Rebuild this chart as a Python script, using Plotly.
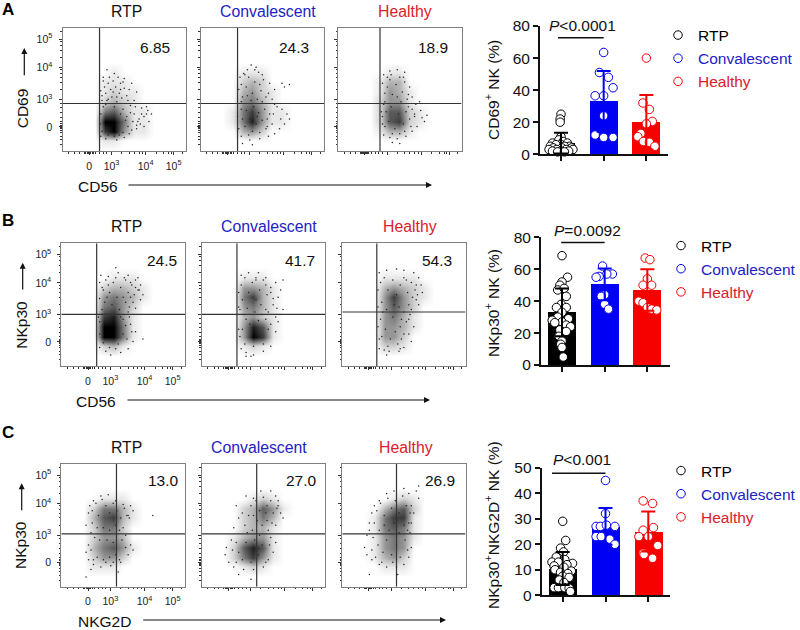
import numpy as np
import plotly.graph_objects as go

W, H = 800, 630
FONT = "Liberation Sans"
BLUE, RED, BLACK = "#0000f5", "#f70000", "#000000"
T_BLUE, T_RED = "#2222c4", "#d9202c"
GROUPS = ["RTP", "Convalescent", "Healthy"]
GROUP_COLORS = [BLACK, BLUE, RED]
TITLE_COLORS = ["#111111", T_BLUE, T_RED]

# ---------- flow-plot data (channel units 0-100) ----------
GRID_X = [10, 18, 26, 34, 42, 50, 58, 66, 74, 82]
GRID_Y = [80, 72, 64, 56, 48, 40, 32, 24, 16, 8, 0]

A_RTP_GRID = [[0,0,0,0,0,0,0,0],[0,0,0,1,0,0,0,0],[0,0,1,1,1,0,0,0],[0,0,1,2,1,1,0,0],[0,0,2,3,2,1,0,0],
              [0,0,5,6,3,1,1,0],[0,0,9,9,5,1,1,0],[0,0,7,9,4,1,1,0],[0,0,1,1,0,0,0,0]]
A_CON_GRID = [[0,0,0,0,0,0,0,0],[0,0,1,1,1,0,0,0],[0,0,2,3,2,0,0,0],[0,0,3,4,2,1,0,0],[0,0,4,5,3,1,0,0],
              [0,1,5,7,4,1,1,0],[0,1,5,8,4,1,1,0],[0,0,3,4,2,0,0,0],[0,0,0,0,0,0,0,0]]
A_HEA_GRID = [[0,0,0,0,0,0,0,0],[0,0,0,1,1,0,0,0],[0,0,1,3,3,0,0,0],[0,0,1,4,3,1,0,0],[0,0,2,4,4,1,0,0],
              [0,0,2,6,6,2,1,0],[0,0,2,6,7,2,1,0],[0,0,1,3,3,1,0,0],[0,0,0,0,0,0,0,0]]
B_RTP_GRID = [[0,0,0,1,1,1,0,0],[0,0,2,3,3,2,1,0],[0,0,4,5,4,3,1,0],[0,0,5,6,4,2,0,0],[0,0,7,8,4,1,0,0],
              [0,0,9,9,5,1,0,0],[0,0,9,9,5,1,0,0],[0,0,2,3,1,0,0,0],[0,0,0,0,0,0,0,0]]
B_CON_GRID = [[0,0,1,1,1,0,0,0],[0,0,4,4,3,1,0,0],[0,0,5,7,3,1,0,0],[0,0,4,5,3,1,0,0],[0,0,3,4,2,1,0,0],
              [0,0,4,8,6,1,0,0],[0,0,4,9,7,1,0,0],[0,0,1,2,1,0,0,0],[0,0,0,0,0,0,0,0]]
B_HEA_GRID = [[0,0,1,1,1,1,0,0],[0,0,3,4,3,2,1,0],[0,0,4,7,4,2,1,0],[0,0,4,6,4,2,0,0],[0,0,4,5,3,1,0,0],
              [0,0,4,4,3,1,0,0],[0,0,4,4,2,0,0,0],[0,0,2,2,1,0,0,0],[0,0,0,0,0,0,0,0]]
C_RTP_GRID = [[0,0,1,1,1,0,0,0],[0,2,5,5,3,1,0,0],[0,3,6,7,3,1,0,0],[0,2,5,5,2,0,0,0],[0,2,4,4,3,0,0,0],
              [0,3,5,6,4,1,0,0],[0,2,4,4,2,0,0,0],[0,1,1,1,0,0,0,0],[0,0,0,0,0,0,0,0]]
C_CON_GRID = [[0,0,0,1,2,1,0,0],[0,0,2,3,6,4,1,0],[0,0,2,3,5,3,0,0],[0,0,2,3,3,1,0,0],[0,1,3,4,4,1,0,0],
              [0,2,6,8,6,1,0,0],[0,2,5,7,4,1,0,0],[0,0,1,2,1,0,0,0],[0,0,0,0,0,0,0,0]]
C_HEA_GRID = [[0,0,0,1,2,1,0,0],[0,0,3,5,6,2,0,0],[0,1,5,7,7,1,0,0],[0,1,5,6,5,1,0,0],[0,1,4,5,4,1,0,0],
              [0,1,4,5,4,0,0,0],[0,1,3,4,2,0,0,0],[0,0,1,1,1,0,0,0],[0,0,0,0,0,0,0,0]]

A_RTP_DOTS = [(33,60),(36,66),(42,63),(50,59),(56,55),(60,48),(34,52),(39,50),(46,47),(52,45),(47,55),(41,57),
              (58,41),(64,35),(68,30),(70,24),(66,20),(62,26),(58,30),(72,30),(66,28),(60,18),(54,14),(31,12),
              (35,10),(44,9),(50,11),(31,30),(32,45),(55,37),(63,22),(69,33),(37,42),(44,40),
              (32,41),(35,47),(37,55),(40,44),(43,52),(45,60),(48,43),(50,51),(53,41),(33,57),(36,41),(41,48),
              (44,44),(47,50),(38,60),(54,50),(49,56),(31,49),(35,38),(42,36),(49,34),(55,31),(59,36),(61,24),
              (57,24),(53,20),(60,21),(64,30),(56,17),(49,15),(52,28),(47,30),(33,36),(30.5,22),(32,16),(37,13),
              (42,12),(46,13),(51,25),(68,36)]
A_CON_DOTS = [(32,60),(38,66),(45,68),(50,62),(56,55),(60,50),(31,50),(33,40),(41,70),(35,63),(58,42),(62,36),
              (66,34),(70,30),(68,22),(65,26),(72,26),(64,18),(60,14),(55,12),(48,10),(40,9),(33,12),(31,18),
              (30,28),(66,55),(72,54),(68,52),(42,5),(34,6),(54,20),(59,30),
              (34,44),(37,52),(39,60),(42,47),(44,56),(47,64),(49,49),(51,58),(53,44),(36,62),(33,54),(41,41),
              (46,42),(48,54),(44,66),(55,47),(38,45),(43,36),(47,31),(52,34),(56,30),(37,33),(34,26),(40,26),
              (45,22),(50,25),(54,26),(36,20),(42,16),(48,15),(33,34),(58,22),(60,38),(53,18),(39,13),(46,28),(50,40)]
A_HEA_DOTS = [(37,62),(42,65),(48,66),(53,60),(58,52),(36,55),(38,47),(60,44),(63,38),(67,33),(68,27),(70,24),
              (64,20),(60,16),(55,12),(48,10),(42,11),(37,13),(36,22),(35,32),(62,28),(57,46),(50,6),(44,7),
              (72,29),(66,40),(54,64),(40,60),
              (38,40),(40,52),(42,58),(44,46),(47,54),(50,60),(52,48),(54,56),(56,42),(39,32),(41,24),(43,36),
              (46,18),(49,30),(51,40),(53,22),(55,32),(58,26),(60,34),(57,36),(62,30),(38,20),(44,14),(50,14),
              (37,38),(43,62),(48,44),(54,16),(59,20),(36,28)]
B_RTP_DOTS = [(32,74),(38,73),(46,76),(54,74),(60,70),(64,66),(66,58),(63,62),(58,52),(60,47),(54,44),(31,68),
              (34,62),(62,72),(56,68),(50,38),(56,34),(60,28),(58,20),(54,14),(48,11),(40,9),(36,12),(31,15),
              (30,40),(31,55),(66,22),(44,80),(52,70),(64,54),
              (33,64),(36,70),(39,60),(42,68),(45,56),(48,64),(51,72),(54,60),(57,66),(59,58),(35,52),(41,50),
              (47,46),(52,52),(55,48),(33,46),(38,66),(44,72),(50,56),(60,64),(56,56),(62,62),(48,40),(52,33),
              (50,26),(53,22),(46,18),(34,19),(39,15),(44,14),(31,26),(31,36),(55,40),(57,28),(37,56)]
B_CON_DOTS = [(32,74),(38,76),(46,76),(52,72),(60,68),(64,62),(62,56),(58,50),(66,70),(56,60),(54,44),(60,40),
              (62,36),(60,28),(56,16),(50,12),(42,9),(36,11),(32,14),(30,30),(30,48),(30,60),(36,8),(40,8),(66,46),
              (44,70),(52,66),
              (32,66),(35,72),(38,60),(41,68),(44,54),(47,62),(50,70),(53,58),(56,64),(33,54),(37,47),(43,44),
              (48,50),(52,46),(31,46),(36,38),(39,34),(33,30),(31,24),(35,18),(42,16),(50,18),(54,30),(52,38),
              (46,37),(58,55),(61,47),(44,72),(34,42),(49,42),(56,34)]
B_HEA_DOTS = [(30,76),(36,78),(44,79),(50,78),(58,76),(62,72),(64,66),(65,60),(60,54),(56,46),(54,38),(58,32),
              (54,26),(56,20),(50,15),(46,12),(38,12),(34,13),(30,14),(29,32),(29,48),(29,62),(60,66),(52,70),
              (48,22),(62,50),(30,22),(36,9),
              (31,68),(34,72),(37,62),(41,70),(44,58),(47,66),(50,72),(53,60),(56,68),(59,62),(32,52),(36,46),
              (41,40),(46,48),(50,44),(54,50),(57,56),(31,38),(35,30),(39,22),(43,28),(47,32),(50,26),(45,18),
              (37,16),(32,24),(48,38),(52,36),(61,58),(42,50),(33,44),(55,42),(47,14)]
C_RTP_DOTS = [(26,70),(32,74),(38,75),(44,70),(50,67),(56,66),(58,62),(54,58),(22,60),(20,50),(24,44),(22,34),
              (20,28),(22,22),(26,18),(32,16),(40,17),(48,20),(54,26),(56,34),(52,42),(50,48),(24,14),(74,58),
              (58,30),(20,8),(46,12),(55,56),
              (25,62),(28,68),(30,58),(33,71),(36,66),(39,60),(42,68),(45,62),(48,56),(51,64),(25,52),(29,48),
              (34,48),(39,46),(44,50),(47,46),(27,40),(31,38),(37,38),(42,36),(49,38),(52,32),(24,30),(29,24),
              (34,22),(39,24),(44,26),(47,22),(26,22),(53,58),(23,66),(36,20),(42,20)]
C_CON_DOTS = [(36,74),(42,72),(48,78),(56,78),(60,74),(62,66),(64,60),(66,56),(60,50),(54,46),(30,56),(26,48),
              (24,38),(20,32),(19,26),(22,20),(26,16),(34,14),(42,14),(50,16),(54,22),(58,28),(60,36),(56,40),
              (28,66),(62,70),(30,10),(40,6),
              (40,66),(44,70),(47,62),(50,73),(53,66),(56,70),(58,60),(61,64),(45,54),(49,50),(53,54),(57,52),
              (38,58),(35,50),(33,60),(41,46),(28,36),(30,28),(33,22),(36,36),(40,20),(43,38),(46,26),(49,34),
              (52,20),(55,34),(25,30),(28,20),(47,42),(37,44),(52,60),(42,58)]
C_HEA_DOTS = [(30,70),(36,76),(42,78),(50,80),(54,76),(60,78),(62,72),(56,66),(58,60),(54,52),(24,60),(22,52),
              (20,42),(18,32),(20,26),(24,22),(30,18),(36,16),(44,16),(50,18),(54,24),(56,32),(55,44),(62,82),(22,10),
              (45,10),(26,66),
              (28,62),(31,68),(34,58),(37,72),(40,64),(43,70),(46,60),(49,74),(52,66),(55,60),(26,52),(30,46),
              (34,50),(38,46),(42,52),(46,44),(50,50),(53,46),(25,40),(29,34),(33,28),(36,38),(40,26),(44,34),
              (47,24),(51,38),(53,30),(24,30),(27,24),(32,20),(56,52),(22,46),(41,20)]

FLOW_GRIDS = [[A_RTP_GRID, A_CON_GRID, A_HEA_GRID], [B_RTP_GRID, B_CON_GRID, B_HEA_GRID], [C_RTP_GRID, C_CON_GRID, C_HEA_GRID]]
FLOW_DOTS = [[A_RTP_DOTS, A_CON_DOTS, A_HEA_DOTS], [B_RTP_DOTS, B_CON_DOTS, B_HEA_DOTS], [C_RTP_DOTS, C_CON_DOTS, C_HEA_DOTS]]
GATE_X = [[30, 30, 34], [28.6, 28.6, 28], [44.6, 44.6, 44]]
GATE_Y = [[38.6, 38.6, 38.6], [42, 42, 44], [43, 43, 43]]
PERCENTS = [["6.85", "24.3", "18.9"], ["24.5", "41.7", "54.3"], ["13.0", "27.0", "26.9"]]
X_TICKS = [21.6, 39.7, 67.3, 90]
Y_TICKS = [19.6, 42, 67.7, 91]
X_TICK_TEXT = ["0", "10<sup>3</sup>", "10<sup>4</sup>", "10<sup>5</sup>"]
Y_TICK_TEXT = ["0", "10<sup>3</sup>", "10<sup>4</sup>", "10<sup>5</sup>"]
X_MINOR = [5, 10, 14, 18, 19, 20, 21, 22, 23, 24, 25, 27, 30, 33, 36, 48, 54, 58, 62, 65, 76, 82, 86, 88, 97]
Y_MINOR = [5, 9, 12, 15, 17, 18, 19, 20, 21, 22, 24, 27, 31, 35, 39, 50, 56, 60, 63, 66, 76, 82, 86, 89, 97]
DENSITY_SCALE = [[0, "#ffffff"], [1/9, "#e8e8e8"], [2/9, "#d0d0d0"], [3/9, "#b4b4b4"], [4/9, "#969696"],
                 [5/9, "#787878"], [6/9, "#5a5a5a"], [7/9, "#3c3c3c"], [8/9, "#1e1e1e"], [1, "#000000"]]

# ---------- bar-chart data ----------
BAR_MEANS = [[7, 33, 20], [33, 50.5, 47], [10.5, 27, 25]]
BAR_SDS = [[6.5, 19, 17], [15, 10, 13], [6.5, 7.2, 7.8]]
A_RTP_VAL = [25,22,20,11,9,8,7,7,6,6,5,5,5,4,4,4,3,3,3,3,2,2,2,1.5,1.5]
A_RTP_OFF = [0,-.02,-.02,0,-.05,.05,-.2,.15,0,-.12,.2,-.25,.08,-.18,.02,.25,-.28,-.1,.12,.28,-.2,0,.18,-.08,.08]
A_CON_VAL = [63.5,51,48,41.5,36.5,36.5,24,12,10.5,10.5]
A_CON_OFF = [0,-.1,.11,.22,-.2,0,0,-.2,0,.22]
A_HEA_VAL = [60,32,28,20.5,19,13,11,8,7.5,5]
A_HEA_OFF = [0,-.08,.07,.14,0,-.13,-.2,-.07,.07,.2]
B_RTP_VAL = [68.5,55,52,50,47,48,43,38,36,36,33,30,29,28,27,26.5,25,24,22,21,18,15,13,11,5]
B_RTP_OFF = [0,.13,0,-.05,-.1,.05,.1,-.02,.1,-.13,0,-.1,.15,-.23,0,-.17,.1,.2,-.05,.1,-.07,0,-.03,0,.03]
B_CON_VAL = [62,57,57,55.5,55,44,43,38,35]
B_CON_OFF = [-.05,.18,.05,-.13,-.2,0,-.08,0,.09]
B_HEA_VAL = [67,66,54,50,50,40,39,36,35,34.5]
B_HEA_OFF = [-.05,.06,0,-.1,.1,-.2,-.1,0,.1,.22]
C_RTP_VAL = [29,21.5,18.5,17,15,14,13,13,12.5,12,11.5,11,10,9.5,9,8.5,7.5,7,6,5,3,3,3,2.8,1.5]
C_RTP_OFF = [0,.07,-.05,.02,-.15,.05,-.25,-.1,.23,.1,-.2,.03,-.18,.2,-.05,.12,0,.15,-.08,.03,-.2,-.1,.05,.15,.18]
C_CON_VAL = [45,32,27,27,27.5,27,23,23,22,20]
C_CON_OFF = [0,0,-.22,-.12,.02,.22,-.22,-.1,.1,.22]
C_HEA_VAL = [37,36,25.5,26.5,23,23,19.5,16.5,16,14.5]
C_HEA_OFF = [-.12,.1,-.12,.12,-.22,0,.22,-.12,-.1,.1]
BAR_VALUES = [[A_RTP_VAL, A_CON_VAL, A_HEA_VAL], [B_RTP_VAL, B_CON_VAL, B_HEA_VAL], [C_RTP_VAL, C_CON_VAL, C_HEA_VAL]]
BAR_OFFSETS = [[A_RTP_OFF, A_CON_OFF, A_HEA_OFF], [B_RTP_OFF, B_CON_OFF, B_HEA_OFF], [C_RTP_OFF, C_CON_OFF, C_HEA_OFF]]
BAR_TICKS = [[0, 20, 40, 60, 80], [0, 20, 40, 60, 80], [0, 10, 20, 30, 40, 50]]
BAR_MAX = [80, 80, 50]
P_TEXT = ["<i>P</i>&lt;0.0001", "<i>P</i>=0.0092", "<i>P</i>&lt;0.001"]
P_LINE = [(-0.07, 72.7), (-0.02, 76.7), (-0.25, 47.8)]

# ---------- layout geometry (pixels) ----------
FLOW_BOX = [
    [(62.5, 186, 28, 151), (200.5, 324, 28, 151), (338, 461.5, 28, 151)],
    [(61.3, 185, 243.3, 366), (201.7, 325, 243.3, 366), (342.3, 465.5, 243.3, 366)],
    [(61.3, 185, 464, 586.7), (201.7, 325, 464, 586.7), (342.3, 465.5, 464, 586.7)],
]
BAR_BOX = [(540, 668, 26, 154.3), (541, 670, 237.3, 365), (541.7, 670, 467.7, 595.3)]
BAR_CENTER0 = [561, 562, 562.7]
BAR_STEP = [42.67, 42.67, 42.8]
TITLE_Y = [11.7, 226.7, 447.7]
TITLE_X = [[126.7, 267.7, 405], [126.7, 269, 410], [126.7, 259.3, 406]]
PCT_Y = [47.7, 260, 480]
PCT_X = [[155.3, 294.3, 433], [161.7, 300, 437], [163.3, 301.7, 440]]
P_POS = [(582.7, 26), (587.7, 230), (581.7, 459.3)]
LEGEND_POS = [(658, 18.5), (661, 229), (661, 454)]


def px(x):
    return x / W


def py(y):
    return 1 - y / H


fig = go.Figure()
layout = {}
annotations = []
shapes = []


def note(text, x, y, size=15.5, color="#111111", angle=0, anchor="center", bold=False):
    annotations.append(dict(
        text=f"<b>{text}</b>" if bold else text, x=px(x), y=py(y), xref="paper", yref="paper",
        xanchor=anchor, yanchor="middle", showarrow=False, textangle=angle,
        font=dict(family=FONT, size=size, color=color)))


def arrow(x0, y0, x1, y1):
    annotations.append(dict(
        text="", x=px(x1), y=py(y1), xref="paper", yref="paper", ax=x0 - x1, ay=y0 - y1,
        axref="pixel", ayref="pixel", showarrow=True, arrowhead=2, arrowsize=1, arrowwidth=1.2, arrowcolor="#111111"))


idx = 0
for r in range(3):
    for c in range(3):
        idx += 1
        xa, ya = f"x{idx}", f"y{idx}"
        l, rt, t, b = FLOW_BOX[r][c]
        grid = np.pad(np.array(FLOW_GRIDS[r][c]), ((1, 1), (1, 1)))
        fig.add_trace(go.Heatmap(
            x=GRID_X, y=GRID_Y[::-1], z=grid[::-1], zmin=0, zmax=9, zsmooth="best",
            colorscale=DENSITY_SCALE, showscale=False, hoverinfo="skip", xaxis=xa, yaxis=ya))
        dots = FLOW_DOTS[r][c]
        fig.add_trace(go.Scatter(
            x=[d[0] for d in dots], y=[d[1] for d in dots], mode="markers", showlegend=False,
            marker=dict(size=1.5, color="#222222", line_width=0), xaxis=xa, yaxis=ya))
        layout[f"xaxis{idx}"] = dict(
            domain=[px(l), px(rt)], range=[0, 100], anchor=ya, showgrid=False, zeroline=False, mirror=True,
            showline=True, linecolor="#7f7f7f", linewidth=1, ticks="outside", ticklen=3, tickwidth=1, tickcolor="#333",
            tickmode="array", tickvals=X_TICKS, ticktext=X_TICK_TEXT, showticklabels=(c == 0), ticklabelstandoff=2,
            tickfont=dict(family=FONT, size=10.5, color="#222"),
            minor=dict(tickmode="array", tickvals=X_MINOR, ticks="outside", ticklen=1.5, tickwidth=1, tickcolor="#333"))
        layout[f"yaxis{idx}"] = dict(
            domain=[py(b), py(t)], range=[0, 100], anchor=xa, showgrid=False, zeroline=False, mirror=True,
            showline=True, linecolor="#7f7f7f", linewidth=1, ticks="outside", ticklen=3, tickwidth=1, tickcolor="#333",
            tickmode="array", tickvals=Y_TICKS, ticktext=Y_TICK_TEXT, showticklabels=(c == 0), ticklabelstandoff=4,
            tickfont=dict(family=FONT, size=10.5, color="#222"),
            minor=dict(tickmode="array", tickvals=Y_MINOR, ticks="outside", ticklen=1.5, tickwidth=1, tickcolor="#333"))
        shapes.append(dict(type="line", xref=xa, yref=ya, x0=GATE_X[r][c], x1=GATE_X[r][c], y0=0, y1=100,
                           line=dict(color="#333333", width=1.2)))
        shapes.append(dict(type="line", xref=xa, yref=ya, x0=0, x1=100, y0=GATE_Y[r][c], y1=GATE_Y[r][c],
                           line=dict(color="#333333", width=1.2)))
        note(GROUPS[c], TITLE_X[r][c], TITLE_Y[r], size=15.8, color=TITLE_COLORS[c])
        note(PERCENTS[r][c], PCT_X[r][c], PCT_Y[r], size=15.5)

for r in range(3):
    idx += 1
    xa, ya = f"x{idx}", f"y{idx}"
    l, rt, t, b = BAR_BOX[r]
    x0 = (l - BAR_CENTER0[r]) / BAR_STEP[r]
    x1 = (rt - BAR_CENTER0[r]) / BAR_STEP[r]
    legend_name = "legend" if r == 0 else f"legend{r + 1}"
    fig.add_trace(go.Bar(x=[0, 1, 2], y=BAR_MEANS[r], width=0.656, marker=dict(color=GROUP_COLORS, line_width=0),
                         showlegend=False, xaxis=xa, yaxis=ya))
    for g in range(3):
        fig.add_trace(go.Scatter(
            x=[g + o for o in BAR_OFFSETS[r][g]], y=BAR_VALUES[r][g], mode="markers", cliponaxis=False,
            name=f"<span style='color:{GROUP_COLORS[g] if g == 0 else TITLE_COLORS[g]}'>{GROUPS[g]}</span>",
            marker=dict(size=8.5, color="#ffffff", line=dict(color=GROUP_COLORS[g], width=1)),
            legend=legend_name, showlegend=True, xaxis=xa, yaxis=ya))
    for g in range(3):
        fig.add_trace(go.Scatter(
            x=[g], y=[BAR_MEANS[r][g]], mode="markers", marker=dict(size=1, color=GROUP_COLORS[g], opacity=0),
            error_y=dict(type="data", array=[BAR_SDS[r][g]], symmetric=True, color=GROUP_COLORS[g], thickness=2, width=7),
            showlegend=False, xaxis=xa, yaxis=ya))
    layout[f"xaxis{idx}"] = dict(
        domain=[px(l), px(rt)], range=[x0, x1], anchor=ya, showgrid=False, zeroline=False, showline=True,
        linecolor="#111", linewidth=2, ticks="outside", ticklen=5, tickwidth=1.5, tickcolor="#111",
        tickmode="array", tickvals=[0, 1, 2], showticklabels=False)
    layout[f"yaxis{idx}"] = dict(
        domain=[py(b), py(t)], range=[0, BAR_MAX[r]], anchor=xa, showgrid=False, zeroline=False, showline=True,
        linecolor="#111", linewidth=2, ticks="outside", ticklen=5, tickwidth=1.5, tickcolor="#111",
        tickmode="array", tickvals=BAR_TICKS[r], tickfont=dict(family=FONT, size=15.5, color="#111"))
    shapes.append(dict(type="line", xref=xa, yref=ya, x0=P_LINE[r][0], x1=1, y0=P_LINE[r][1], y1=P_LINE[r][1],
                       line=dict(color="#111", width=1.6)))
    note(P_TEXT[r], P_POS[r][0], P_POS[r][1], size=15.5)
    layout[legend_name] = dict(
        x=px(LEGEND_POS[r][0]), y=py(LEGEND_POS[r][1]), xanchor="left", yanchor="top", bgcolor="rgba(0,0,0,0)",
        borderwidth=0, font=dict(family=FONT, size=15.5, color="#111"), itemclick=False, itemdoubleclick=False,
        tracegroupgap=0)

note("CD69<sup>+</sup> NK (%)", 492, 90, angle=-90)
note("NKp30<sup>+</sup> NK (%)", 492, 303, angle=-90)
note("NKp30<sup>+</sup>NKG2D<sup>+</sup> NK (%)", 492, 525, angle=-90)

note("A", 8, 10, size=17, color="#000", bold=True)
note("B", 8, 220.7, size=17, color="#000", bold=True)
note("C", 8, 432.7, size=17, color="#000", bold=True)
note("CD56", 98, 186.7)
note("CD56", 96, 401.7)
note("NKG2D", 104.3, 621.7)
note("CD69", 22.3, 108, angle=-90)
note("NKp30", 20.7, 325, angle=-90)
note("NKp30", 20, 545, angle=-90)
arrow(127, 185, 432, 185)
arrow(126, 400, 430, 400)
arrow(141.7, 620, 446, 620)
arrow(24.3, 76.7, 24.3, 48)
arrow(22.7, 291, 22.7, 262.7)
arrow(21.7, 511.7, 21.7, 483.3)

fig.update_layout(width=W, height=H, autosize=False, margin=dict(l=0, r=0, t=0, b=0, autoexpand=False),
                  plot_bgcolor="#ffffff", paper_bgcolor="#ffffff", bargap=0,
                  annotations=annotations, shapes=shapes, **layout)
fig.write_html("out.html", config={"displayModeBar": False}, post_script="document.body.style.margin='0';")
